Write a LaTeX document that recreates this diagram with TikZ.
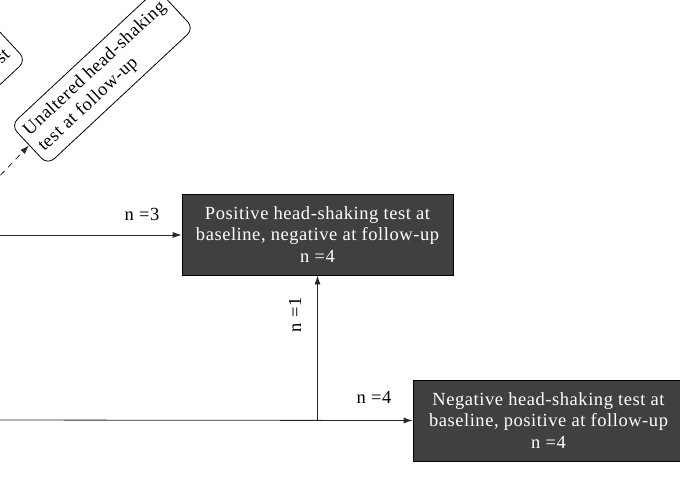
\documentclass[tikz,border=0pt]{standalone}
\usepackage{fontspec}
\setmainfont{Liberation Serif}[LetterSpace=3]
\usetikzlibrary{arrows.meta}
\definecolor{boxfill}{RGB}{64,64,64}
\definecolor{linec}{RGB}{40,40,40}
\tikzset{
  darkbox/.style={draw=black, fill=boxfill, text=white, line width=0.8pt,
    minimum width=271pt, minimum height=81pt, align=center, inner sep=0pt,
    font=\fontsize{18.5}{21.5}\selectfont},
  leafbox/.style={draw=black, fill=white, rounded corners=9pt, line width=0.8pt,
    rotate=43, minimum width=200pt, minimum height=54pt, align=left, inner sep=0pt,
    font=\fontsize{18.5}{21.5}\selectfont},
  conn/.style={draw=linec, line width=0.8pt, -{Latex[length=9pt,width=6pt]}},
  dconn/.style={conn, dash pattern=on 6pt off 5pt},
  lbl/.style={font=\fontsize{18.5}{21.5}\selectfont, inner sep=0pt},
}
\begin{document}
\begin{tikzpicture}[x=1pt,y=-1pt]
\useasboundingbox (0,0) rectangle (680,500);
\clip (0,0) rectangle (680,500);
% nodes
\node[darkbox] (pos) at (317.5,234.5) {Positive head-shaking test at\\baseline, negative at follow-up\\n =4};
\node[darkbox] (neg) at (548.5,420.5) {Negative head-shaking test at\\baseline, positive at follow-up\\n =4};
\node[leafbox] (unalt) at (102.4,76.9) {Unaltered head-shaking\\test at follow-up};
\node[leafbox] (other) at (-65.4,108.7) {};
\node[lbl, rotate=43, anchor=east] (othertxt) at (7.6,52.1) {test};
% free ends
\coordinate (srcA) at (-20,235);
\coordinate (srcB) at (-20,420);
\coordinate (srcD) at (-30,207);
\coordinate (jn) at (pos.south |- srcB);
% connectors
\draw[conn] (srcA) -- (pos.west |- srcA);
\draw[conn] (srcB) -- (neg.west);
\draw[conn] (jn) -- (pos.south);
\draw[dconn] (srcD) -- (unalt.west);
% labels
\node[lbl] (n3) at (142,214) {n =3};
\node[lbl] (n4) at (374,397) {n =4};
\node[lbl, rotate=90] (n1) at (295,315) {n =1};
\end{tikzpicture}
\end{document}
